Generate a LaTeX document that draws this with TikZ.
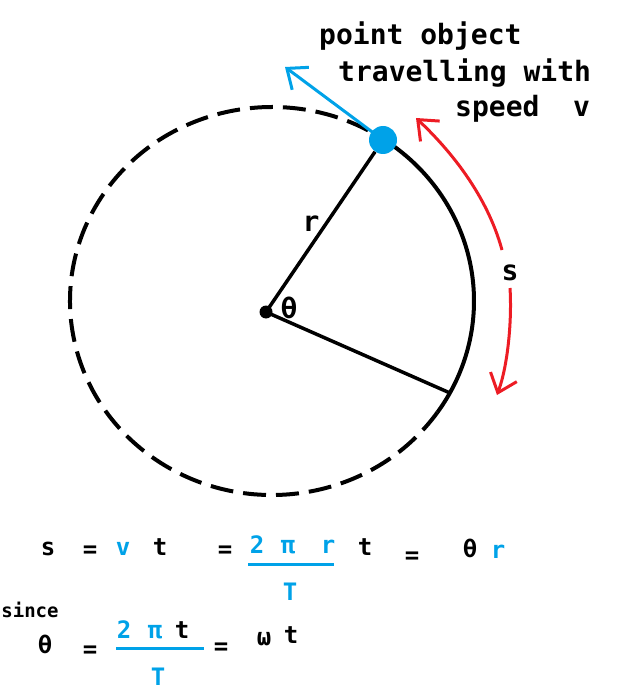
\documentclass[tikz,border=0pt]{standalone}
\usepackage{fontspec}
\setmonofont{DejaVu Sans Mono}
\usetikzlibrary{arrows.meta}
\definecolor{paintblue}{HTML}{00A2E8}
\definecolor{paintred}{HTML}{ED1C24}

\begin{document}
\begin{tikzpicture}[x=1pt, y=-1pt,
    txt/.style={font=\ttfamily\bfseries\fontsize{28}{30}\selectfont, inner sep=0pt},
    eq/.style={font=\ttfamily\bfseries\fontsize{24}{26}\selectfont, inner sep=0pt, anchor=base},
    barb/.style={-{Straight Barb[length=17pt, width=28pt]}, line width=3pt}]
    \useasboundingbox (0,0) rectangle (638,700);
    % the path: solid where the object has gone, dashed elsewhere
    \draw[line width=4pt] (272,301) ++(-56.5:202 and 194) arc[start angle=-56.5, end angle=35, x radius=202, y radius=194];
    \draw[line width=4pt, dash pattern=on 23pt off 10pt] (272,301) ++(35:202 and 194) arc[start angle=35, end angle=303.5, x radius=202, y radius=194];
    \node[circle, fill, inner sep=0pt, minimum size=13pt] (O) at (266,312) {};
    \coordinate (Q) at (450,393);
    \coordinate (vtip) at (285,67);
    \draw[barb, paintblue] (383,140) -- (vtip);
    \node[circle, fill=paintblue, inner sep=0pt, minimum size=28pt] (obj) at (383,140) {};
    \draw[line width=3.5pt] (O.center) -- (obj);
    \draw[line width=3.5pt] (O.center) -- (Q);
    % arc length s
    \coordinate (s1) at (502,250);
    \coordinate (s1tip) at (416,118);
    \coordinate (s2) at (510,288);
    \coordinate (s2tip) at (497,395);
    \draw[barb, paintred] (s1) .. controls (487,195) and (450,150) .. (s1tip);
    \draw[barb, paintred] (s2) .. controls (512,320) and (508,365) .. (s2tip);
    \node[txt] (r) at (311,224) {r};
    \node[txt] (theta) at (289,308) {θ};
    \node[txt] (s) at (510,273) {s};
    \node[txt, anchor=base west] (l1) at (319,45) {point object};
    \node[txt, anchor=base west] (l2) at (338,82) {travelling with};
    \node[txt, anchor=base west] (l3) at (455,117) {speed\ \ v};
    % equations
    \foreach \x/\y/\t/\c [count=\i] in {48/555/s/black, 90/557/=/black, 123/555/v/paintblue, 160/555/t/black,
        225/557/=/black, 257/553/2/paintblue, 288/553/π/paintblue, 328/553/r/paintblue, 290/600/T/paintblue,
        365/555/t/black, 412/563/=/black, 470/557/θ/black, 498/558/r/paintblue}
        \node[eq, text=\c] (a\i) at (\x,\y) {\t};
    \draw[paintblue, line width=3pt] (248,564) -- (334,564);
    \node[eq, font=\ttfamily\bfseries\fontsize{19}{21}\selectfont] (since) at (30,617) {since};
    \foreach \x/\y/\t/\c [count=\i] in {45/653/θ/black, 90/657/=/black, 124/638/2/paintblue, 155/638/π/paintblue,
        182/638/t/black, 158/685/T/paintblue, 221/654/=/black, 264/645/ω/black, 291/643/t/black}
        \node[eq, text=\c] (b\i) at (\x,\y) {\t};
    \draw[paintblue, line width=3pt] (116,648) -- (204,648);
\end{tikzpicture}
\end{document}
